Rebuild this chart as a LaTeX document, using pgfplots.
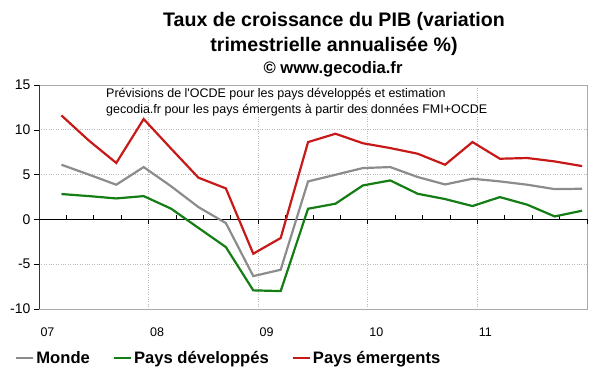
\documentclass[border=0pt]{standalone}
\usepackage{pgfplots}
\pgfplotsset{compat=1.18}
\usepackage{pgfplotstable}
\usepackage{fontspec}
\setmainfont{Liberation Sans}
\definecolor{cmonde}{RGB}{140,140,140}
\definecolor{cdev}{RGB}{20,125,20}
\definecolor{cemer}{RGB}{200,25,25}
\definecolor{cgrid}{RGB}{185,185,185}
\definecolor{cframe}{RGB}{170,170,170}
\pgfplotstableread{
x monde dev emer
0.82 6.10 2.83 11.60
1.82 5.00 2.60 8.80
2.82 3.87 2.34 6.30
3.82 5.84 2.60 11.20
4.82 3.70 1.20 7.90
5.82 1.37 -0.95 4.65
6.82 -0.41 -3.09 3.46
7.82 -6.33 -7.92 -3.83
8.82 -5.62 -8.00 -2.08
9.82 4.24 1.19 8.63
10.82 4.98 1.75 9.56
11.82 5.73 3.79 8.50
12.82 5.84 4.35 7.96
13.82 4.73 2.86 7.33
14.82 3.90 2.27 6.10
15.82 4.54 1.49 8.63
16.82 4.24 2.49 6.77
17.82 3.87 1.64 6.85
18.82 3.38 0.33 6.47
19.82 3.42 0.97 5.95
}\data
\begin{document}
\begin{tikzpicture}[x=1pt,y=1pt]
\useasboundingbox (0,0) rectangle (600,372);
\node[font=\bfseries\fontsize{19.6}{22}\selectfont, inner sep=0] at (334,351) {Taux de croissance du PIB (variation};
\node[font=\bfseries\fontsize{19.6}{22}\selectfont, inner sep=0] at (334,326) {trimestrielle annualisée \%)};
\node[font=\bfseries\fontsize{16.6}{18}\selectfont, inner sep=0] at (333,303) {© www.gecodia.fr};
\begin{axis}[at={(39pt,63pt)}, anchor=south west, scale only axis,
  width=548pt, height=224pt,
  xmin=0, xmax=20, ymin=-10, ymax=15,
  axis line style={draw=cframe},
  xtick={0,4,8,12,16}, xticklabels={07,08,09,10,11},
  xmajorgrids, ymajorgrids,
  x tick style={draw=none},
  x tick label style={anchor=west, yshift=-18pt, xshift=-2pt, font=\fontsize{12.5}{14}\selectfont},
  ytick={-10,-5,0,5,10,15}, yticklabels={-10,-5,0,5,10,15},
  y tick label style={font=\fontsize{14}{16}\selectfont},
  ytick pos=left, tick align=outside, major tick length=5pt,
  y tick style={black},
  grid style={dotted, cgrid, line width=0.8pt},
  legend columns=3,
  legend style={at={(-0.0438,-0.219)}, anchor=west, draw=none, fill=none, inner sep=0pt,
    font=\bfseries\fontsize{16.6}{18}\selectfont,
    /tikz/every even column/.append style={column sep=21pt}},
  legend image code/.code={\draw[#1] (0pt,0pt) -- (17pt,0pt);},
  every axis plot/.append style={line width=2.2pt, mark=none},
  clip=false,
]
\draw[black!80, line width=0.8pt] (rel axis cs:0,0) -- (rel axis cs:0,1);
\draw[black, line width=0.9pt] (axis cs:0,0) -- (axis cs:20,0);
\pgfplotsinvokeforeach{1,2,3,5,6,7,9,10,11,13,14,15,17,18,19}{
  \draw[black, line width=0.7pt] (axis cs:#1,0) -- ++(0pt,4pt);
}
\pgfplotsinvokeforeach{4,8,12,16,20}{
  \draw[black, line width=0.7pt] (axis cs:#1,0) -- ++(0pt,-5pt);
}
\addplot[cmonde] table[x=x, y=monde] {\data};
\addlegendentry{Monde}
\addplot[cdev] table[x=x, y=dev] {\data};
\addlegendentry{Pays développés}
\addplot[cemer] table[x=x, y=emer] {\data};
\addlegendentry{Pays émergents}
\end{axis}
\node[anchor=base west, font=\fontsize{12.5}{15}\selectfont, inner sep=0] at (106,274.5) {Prévisions de l\textquotesingle OCDE pour les pays développés et estimation};
\node[anchor=base west, font=\fontsize{12.5}{15}\selectfont, inner sep=0] at (106,258) {gecodia.fr pour les pays émergents à partir des données FMI+OCDE};
\end{tikzpicture}
\end{document}
